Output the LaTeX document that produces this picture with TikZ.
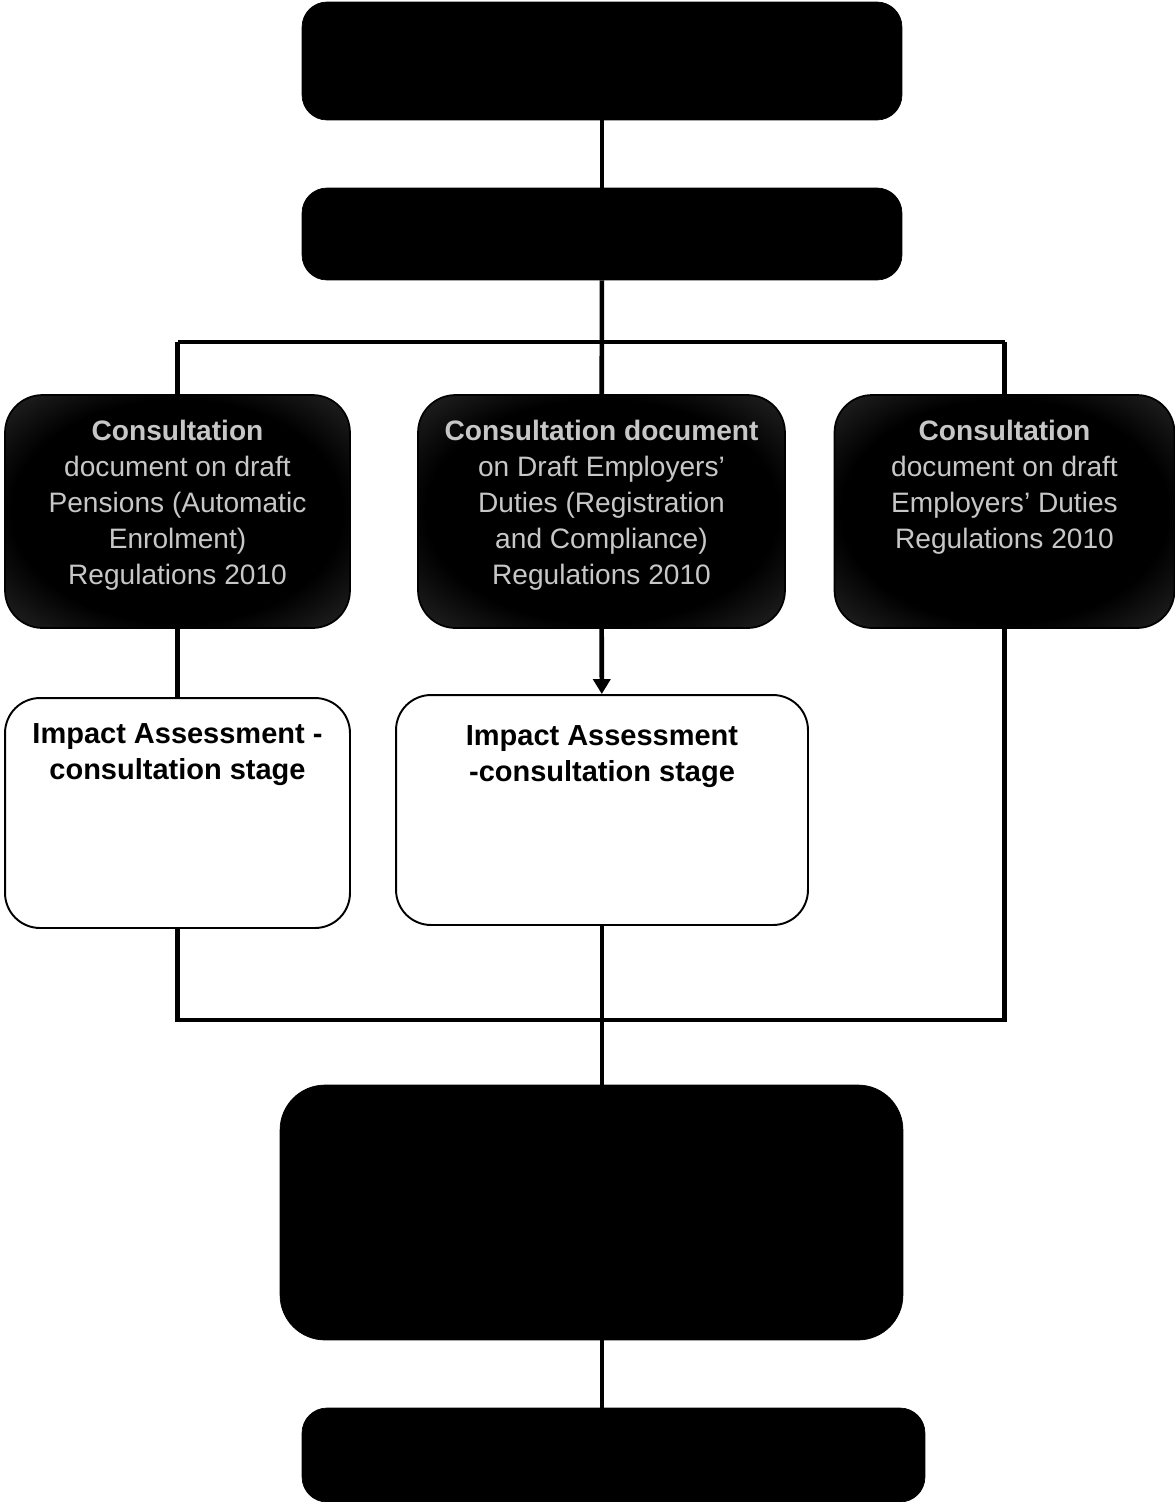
\documentclass[tikz,border=0pt]{standalone}
\usepackage{fontspec}
\setmainfont{Liberation Sans}
\usetikzlibrary{arrows.meta}

\pgfdeclareradialshading{edgeglow}{\pgfpoint{0bp}{0bp}}{color(0bp)=(black); color(24bp)=(black); color(40bp)=(black!80); color(50bp)=(black!55); color(100bp)=(black!55)}

\begin{document}
\begin{tikzpicture}[x=0.02cm, y=-0.02cm]
\useasboundingbox (0,0) rectangle (1175,1502);

\coordinate (Split) at (602,342);
\coordinate (Join) at (602,1020);


\tikzset{BlackBox/.style = {
 shape = rectangle,
 fill = black,
 draw = black,
 rounded corners = 0.5cm,
 inner sep = 0pt} }

\tikzset{ConsBox/.style = {
 shape = rectangle,
 shading = edgeglow,
 draw = black,
 line width = 1pt,
 rounded corners = 0.75cm,
 inner sep = 0pt,
 text = black!22,
 font = \fontsize{16}{20.5}\selectfont} }

\tikzset{ImpactBox/.style = {
 shape = rectangle,
 fill = white,
 draw = black,
 line width = 1.1pt,
 rounded corners = 0.7cm,
 inner sep = 0pt,
 font = \bfseries\fontsize{16.5}{20}\selectfont} }

\node[BlackBox, minimum width=12cm, minimum height=2.36cm] (TopBox) at (602,61) {};
\node[BlackBox, minimum width=12cm, minimum height=1.84cm] (Approve) at (602,234) {};

\node[ConsBox, minimum width=6.9cm, minimum height=4.66cm] (C1) at (177.5,511.5)
 {\parbox[c][4.66cm][t]{6.6cm}{\vspace*{0.5cm}\centering
 \textbf{Consultation}\\document on draft\\Pensions (Automatic\\Enrolment)\\Regulations 2010}};
\node[ConsBox, minimum width=7.34cm, minimum height=4.66cm] (C2) at (601.5,511.5)
 {\parbox[c][4.66cm][t]{7cm}{\vspace*{0.5cm}\centering
 \textbf{Consultation document}\\on Draft Employers'\\Duties (Registration\\and Compliance)\\Regulations 2010}};
\node[ConsBox, minimum width=6.8cm, minimum height=4.66cm] (C3) at (1004.5,511.5)
 {\parbox[c][4.66cm][t]{6.5cm}{\vspace*{0.5cm}\centering
 \textbf{Consultation}\\document on draft\\Employers' Duties\\Regulations 2010}};

\node[ImpactBox, minimum width=6.9cm, minimum height=4.6cm] (IA1) at (177.5,813)
 {\parbox[c][4.6cm][t]{6.6cm}{\vspace*{0.52cm}\centering
 Impact Assessment -\\consultation stage}};
\node[ImpactBox, minimum width=8.24cm, minimum height=4.6cm] (IA2) at (602,810)
 {\parbox[c][4.6cm][t]{7.9cm}{\vspace*{0.62cm}\centering
 Impact Assessment\\-consultation stage}};

\node[BlackBox, rounded corners=0.9cm, minimum width=12.46cm, minimum height=5.1cm] (Outcome) at (591.5,1212.5) {};
\node[BlackBox, minimum width=12.46cm, minimum height=1.88cm] (Publish) at (613.5,1455) {};


\tikzset{Wire/.style = {line width=2.6pt, draw=black} }

\draw[Wire] (TopBox) -- (Approve);
\draw[Wire] (Approve) -- (C2);
\draw[Wire] (C1 |- Split) -- (C3 |- Split);
\draw[Wire] (C1 |- Split) -- (C1);
\draw[Wire] (C3 |- Split) -- (C3);
\draw[Wire] (C1) -- (IA1);
\draw[Wire, -{Triangle[width=0.34cm, length=0.3cm]}] (C2) -- (IA2);
\draw[Wire] (IA1) -- (IA1 |- Join) -| (C3);
\draw[Wire] (IA2) -- (IA2 |- Outcome.north);
\draw[Wire] (Outcome.south -| Join) -- (Publish.north -| Join);

\end{tikzpicture}
\end{document}
